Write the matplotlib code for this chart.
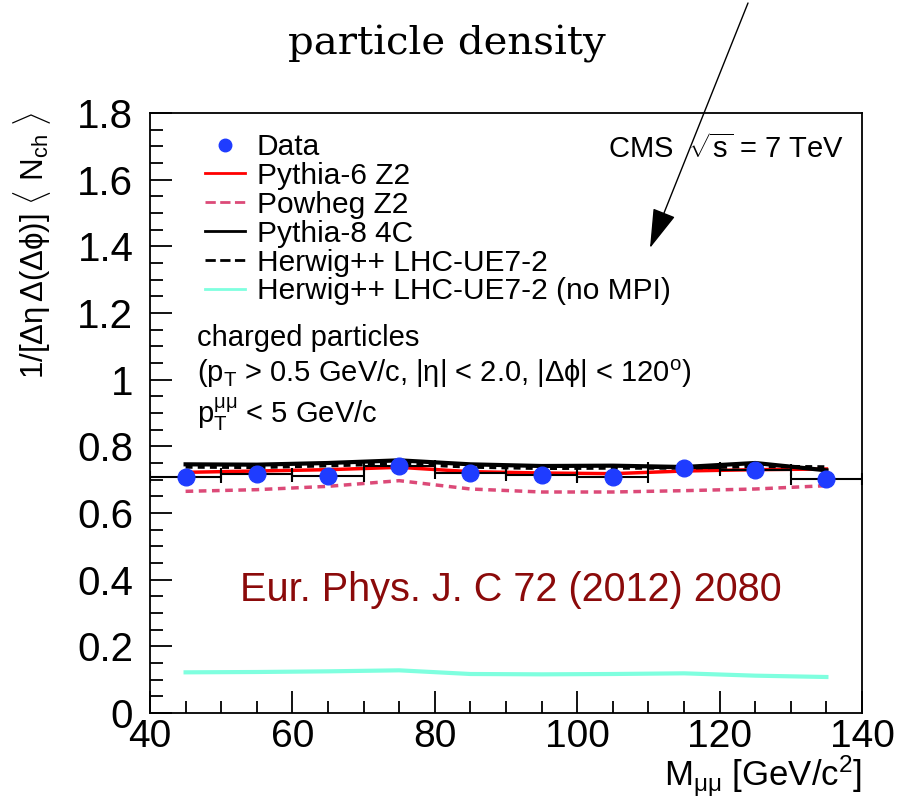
import matplotlib
matplotlib.use("Agg")
import matplotlib.pyplot as plt
from matplotlib.ticker import MultipleLocator, FixedLocator
from matplotlib.lines import Line2D

plt.rcParams['font.family'] = ['Liberation Sans', 'DejaVu Sans']
plt.rcParams['mathtext.fontset'] = 'custom'
plt.rcParams['mathtext.rm'] = 'Liberation Sans'
plt.rcParams['mathtext.it'] = 'Liberation Sans'
plt.rcParams['mathtext.bf'] = 'Liberation Sans:bold'

# ---- data ----
mass = [45, 55, 65, 75, 85, 95, 105, 115, 125, 135]
mass_err = [5] * 10
data = [0.708, 0.716, 0.711, 0.740, 0.720, 0.714, 0.708, 0.735, 0.730, 0.702]
data_err = [0.006] * 10
pythia6 = [0.722, 0.726, 0.730, 0.737, 0.724, 0.720, 0.718, 0.726, 0.730, 0.732]
powheg = [0.665, 0.670, 0.680, 0.697, 0.672, 0.663, 0.663, 0.667, 0.672, 0.682]
pythia8 = [0.746, 0.745, 0.750, 0.758, 0.746, 0.741, 0.742, 0.738, 0.750, 0.728]
herwig = [0.738, 0.737, 0.742, 0.748, 0.738, 0.734, 0.735, 0.735, 0.740, 0.738]
herwig_nompi = [0.122, 0.123, 0.125, 0.128, 0.117, 0.116, 0.117, 0.119, 0.112, 0.108]

yticks = [0, 0.2, 0.4, 0.6, 0.8, 1.0, 1.2, 1.4, 1.6, 1.8]
yticklabels = ["0", "0.2", "0.4", "0.6", "0.8", "1", "1.2", "1.4", "1.6", "1.8"]
xticks = [40, 60, 80, 100, 120, 140]
xticklabels = ["40", "60", "80", "100", "120", "140"]

fig = plt.figure(figsize=(9, 8.02), dpi=100)
ax = fig.add_axes([150/900, (802-713)/802, (862-150)/900, (713-113)/802])

ax.plot(mass, herwig_nompi, color='#7fffdf', lw=3, label='Herwig++ LHC-UE7-2 (no MPI)', zorder=2)
ax.plot(mass, powheg, color='#dc4a78', lw=2.5, ls=(0, (2.2, 1.6)), label='Powheg Z2', zorder=2)
ax.plot(mass, pythia6, color='#ff0000', lw=2.5, label='Pythia-6 Z2', zorder=3)
ax.plot(mass, pythia8, color='black', lw=3, label='Pythia-8 4C', zorder=3)
ax.plot(mass, herwig, color='black', lw=2.5, ls=(0, (2, 1.5)), label='Herwig++ LHC-UE7-2', zorder=3)
ax.errorbar(mass, data, xerr=mass_err, yerr=data_err, fmt='o', color='black',
            mfc='#1f3cff', mec='#1f3cff', ms=12, elinewidth=1.5, capsize=4, capthick=1.5,
            label='Data', zorder=4)

ax.set_xlim(40, 140)
ax.set_ylim(0, 1.8)
ax.xaxis.set_major_locator(FixedLocator(xticks))
ax.set_xticklabels(xticklabels)
ax.xaxis.set_minor_locator(MultipleLocator(5))
ax.yaxis.set_major_locator(FixedLocator(yticks))
ax.set_yticklabels(yticklabels)
ax.yaxis.set_minor_locator(MultipleLocator(0.05))
ax.tick_params(which='both', direction='in', top=False, right=False, width=1.3)
ax.tick_params(which='major', length=16, labelsize=29, pad=5)
ax.tick_params(which='minor', length=9)
ax.tick_params(axis='x', which='major', pad=4, labelsize=28)
ax.tick_params(axis='y', which='major', pad=12)
for s in ax.spines.values():
    s.set_linewidth(1.3)

# legend
h, l = ax.get_legend_handles_labels()
order = ['Data', 'Pythia-6 Z2', 'Powheg Z2', 'Pythia-8 4C', 'Herwig++ LHC-UE7-2', 'Herwig++ LHC-UE7-2 (no MPI)']
hd = dict(zip(l, h))
dh = Line2D([], [], ls='none', marker='o', color='#1f3cff', ms=9)
handles = [dh] + [Line2D([], [], color=hd[k].get_color(), lw=2, ls=hd[k].get_linestyle()) for k in order[1:]]
leg = ax.legend(handles, order, loc='upper left', bbox_to_anchor=(55/712, 1 - 20/600), frameon=False,
                fontsize=21.5, handlelength=1.35, handletextpad=0.38, labelspacing=0.03,
                borderpad=0, borderaxespad=0)

ax.text(0.975, 0.94, r'CMS  $\sqrt{s}$ = 7 TeV', transform=ax.transAxes, ha='right', va='center', fontsize=21)
ax.text(0.066, 0.625, 'charged particles', transform=ax.transAxes, ha='left', va='center', fontsize=21)
ax.text(0.066, 0.565, r'(p$_{\mathrm{T}}$ > 0.5 GeV/c, |$\eta$| < 2.0, |$\Delta\phi$| < 120$^{\mathrm{o}}$)',
        transform=ax.transAxes, ha='left', va='center', fontsize=21)
ax.text(0.066, 0.497, r'p$_{\mathrm{T}}^{\mu\mu}$ < 5 GeV/c', transform=ax.transAxes, ha='left', va='center', fontsize=21)

ax.text(0.507, 0.205, 'Eur. Phys. J. C 72 (2012) 2080', transform=ax.transAxes, ha='center', va='center',
        fontsize=28.5, color='#8b0a0a')

fig.text(447/900, 1 - 44/802, 'particle density', ha='center', va='center', fontsize=29,
         family='DejaVu Serif')

fig.text(32/900, 1 - 112/802, r'1/[$\Delta\eta\,\Delta(\Delta\phi)$] $\langle$ N$_{\mathrm{ch}}$ $\rangle$',
         rotation=90, ha='center', va='top', fontsize=22.5)
fig.text(862/900, 1 - 754/802, r'M$_{\mu\mu}$ [GeV/c$^{2}$]', ha='right', va='top', fontsize=25)

ax.annotate('', xy=(650, 802-248), xycoords='figure pixels', xytext=(748, 802-3), textcoords='figure pixels',
            arrowprops=dict(arrowstyle='-|>,head_length=1.0,head_width=0.3', mutation_scale=25,
                            lw=1.0, color='black', shrinkA=0, shrinkB=0), annotation_clip=False)

fig.savefig('out.png', dpi=100)
